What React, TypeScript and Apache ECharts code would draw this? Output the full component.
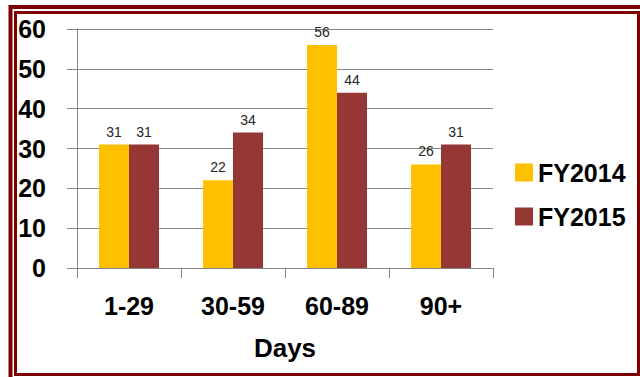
import React, { useEffect, useRef } from "react";
import * as echarts from "echarts";

const categories = ["1-29", "30-59", "60-89", "90+"];
const fy2014 = [31, 22, 56, 26];
const fy2015 = [31, 34, 44, 31];
const seriesNames = ["FY2014", "FY2015"];
const axisName = "Days";

const FONT = "'Liberation Sans', Arial, sans-serif";
const FRAME = "#7f0000";
const GRID_GRAY = "#868686";

export default function App() {
  const ref = useRef<HTMLDivElement>(null);

  useEffect(() => {
    if (!ref.current) return;
    const chart = echarts.init(ref.current, undefined, { renderer: "svg" });

    const labelStyle = {
      show: true,
      position: "top" as const,
      distance: 6,
      fontFamily: FONT,
      fontSize: 14,
      color: "#262626",
    };

    chart.setOption({
      animation: false,
      backgroundColor: "#ffffff",
      grid: { left: 77, right: 147, top: 29, bottom: 109, containLabel: false },
      legend: {
        orient: "vertical",
        left: 515,
        top: 160,
        padding: 0,
        itemWidth: 18,
        itemHeight: 18,
        itemGap: 19,
        icon: "rect",
        textStyle: { fontFamily: FONT, fontSize: 25, fontWeight: "bold", color: "#000" },
        data: seriesNames,
      },
      xAxis: {
        type: "category",
        data: categories,
        name: axisName,
        nameLocation: "middle",
        nameGap: 67,
        nameTextStyle: {
          fontFamily: FONT,
          fontSize: 26,
          fontWeight: "bold",
          color: "#000",
          verticalAlign: "top",
        },
        axisLine: { show: true, lineStyle: { color: GRID_GRAY, width: 1 } },
        axisTick: { show: true, length: 10, lineStyle: { color: GRID_GRAY } },
        axisLabel: {
          margin: 25,
          fontFamily: FONT,
          fontSize: 25,
          fontWeight: "bold",
          color: "#000",
        },
      },
      yAxis: {
        type: "value",
        min: 0,
        max: 60,
        interval: 10,
        axisLine: { show: true, lineStyle: { color: GRID_GRAY, width: 1 } },
        axisTick: { show: true, length: 10, lineStyle: { color: GRID_GRAY } },
        splitLine: { show: true, lineStyle: { color: GRID_GRAY, width: 1 } },
        axisLabel: {
          margin: 31,
          fontFamily: FONT,
          fontSize: 25,
          fontWeight: "bold",
          color: "#000",
        },
      },
      series: [
        {
          name: seriesNames[0],
          type: "bar",
          data: fy2014,
          barWidth: 30,
          barGap: "0%",
          itemStyle: { color: "#ffc000" },
          label: labelStyle,
        },
        {
          name: seriesNames[1],
          type: "bar",
          data: fy2015,
          barWidth: 30,
          barGap: "0%",
          itemStyle: { color: "#953735" },
          label: labelStyle,
        },
      ],
      graphic: [
        {
          type: "rect",
          shape: { x: 10.5, y: 7, width: 700, height: 500 },
          style: { fill: "none", stroke: FRAME, lineWidth: 4 },
          silent: true,
        },
        {
          type: "rect",
          shape: { x: 15.5, y: 12.5, width: 623, height: 362 },
          style: { fill: "none", stroke: FRAME, lineWidth: 3 },
          silent: true,
        },
      ],
    });

    return () => chart.dispose();
  }, []);

  return (
    <div
      ref={ref}
      style={{ position: "absolute", left: 0, top: 0, width: 640, height: 377 }}
    />
  );
}
